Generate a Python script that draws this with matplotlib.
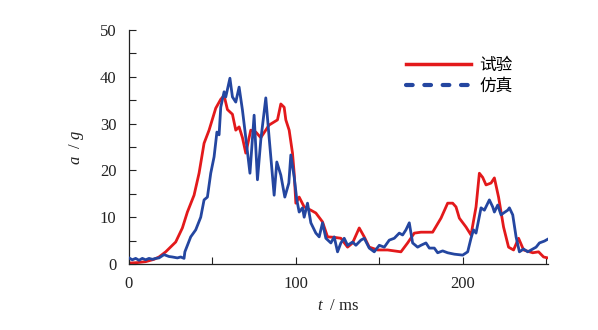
import matplotlib
matplotlib.use("Agg")
import matplotlib.pyplot as plt
from matplotlib.lines import Line2D
from matplotlib.ticker import MultipleLocator

# 字体设置：数字用 Times 风格衬线体，中文用思源黑体
plt.rcParams['font.family'] = ['Liberation Serif', 'Noto Sans CJK SC']
plt.rcParams['mathtext.fontset'] = 'custom'
plt.rcParams['mathtext.it'] = 'Liberation Serif:italic'
plt.rcParams['mathtext.rm'] = 'Liberation Serif'

# 试验曲线 (t / ms, a / g)
t_exp = [0, 5, 10, 15, 18, 22, 28, 32, 35, 39, 42, 45, 48, 52, 55, 57, 59, 62,
         64, 66, 68, 70, 73, 76, 79, 84, 89, 91, 93, 94, 96, 98, 99, 100, 102,
         105, 109, 112, 116, 119, 123, 127, 131, 134, 138, 141, 144, 149, 155,
         163, 167, 171, 175, 182, 187, 191, 194, 196, 198, 202, 205, 208, 210,
         212, 214, 217, 219, 221.5, 224.5, 227.5, 230.5, 233.5, 236.5, 242,
         245.5, 248.5, 251]
a_exp = [0.2, 0.3, 0.5, 1.0, 1.5, 2.6, 4.7, 7.7, 11.1, 14.7, 19.4, 25.8, 28.6,
         33.3, 35.2, 36.0, 33.0, 32.0, 28.6, 29.3, 27.0, 23.7, 28.6, 28.2, 27.0,
         29.7, 30.8, 34.2, 33.5, 30.8, 28.6, 23.7, 19.4, 13.0, 14.3, 12.2,
         11.5, 10.9, 9.0, 5.8, 5.7, 5.5, 3.6, 4.5, 7.7, 5.8, 3.6, 3.0, 3.0,
         2.6, 4.5, 6.6, 6.8, 6.8, 9.8, 13.0, 13.0, 12.2, 9.8, 7.9, 6.2, 12.2,
         19.4, 18.5, 16.9, 17.3, 18.4, 14.3, 7.9, 3.6, 3.0, 5.5, 3.0, 2.4,
         2.6, 1.5, 1.3]

# 仿真曲线
t_sim = [0, 2, 4, 6, 8, 10, 12, 14, 16, 18, 21, 24, 26, 29, 31, 33, 33.5, 37,
         40, 43, 45, 47, 49, 51, 52.7, 54, 55, 57, 58, 60.5, 62, 64, 66, 68,
         70, 72.5, 75, 77, 79, 82, 84, 87, 88.6, 91, 93.4, 95.8, 97, 99,
         100.6, 102, 104, 105, 107, 109, 112, 114, 116, 118, 121, 123, 125,
         127, 129, 131, 134, 136, 139, 141, 144, 147, 150, 153, 156, 159, 162,
         164, 166, 168, 170, 173, 175, 178, 180, 183, 185, 188, 191, 195, 200,
         203, 205, 206.5, 208, 211, 213, 214.5, 216, 218, 219, 221, 223,
         224.5, 227, 228, 230, 232, 234, 236.5, 239, 242, 244, 246, 249, 251]
a_sim = [1.3, 0.9, 1.2, 0.8, 1.2, 0.9, 1.2, 1.0, 1.2, 1.3, 2.0, 1.6, 1.5, 1.3,
         1.5, 1.2, 2.6, 5.8, 7.3, 10.0, 13.7, 14.3, 19.4, 22.9, 28.2, 27.6,
         33.5, 36.8, 35.7, 39.7, 35.7, 34.6, 37.8, 32.9, 27.0, 19.4, 31.8,
         18.0, 26.5, 35.5, 27.0, 14.7, 21.8, 19.0, 14.3, 17.3, 23.3, 18.6,
         13.7, 11.1, 12.0, 10.0, 13.0, 8.8, 6.6, 5.8, 8.8, 5.5, 4.5, 5.8, 2.6,
         4.5, 5.5, 4.0, 4.7, 4.0, 5.1, 5.5, 3.4, 2.6, 4.0, 3.6, 5.1, 5.5, 6.6,
         6.2, 7.3, 8.8, 4.5, 3.6, 4.0, 4.5, 3.4, 3.4, 2.4, 2.8, 2.4, 2.1, 1.9,
         2.6, 5.5, 7.3, 6.6, 12.0, 11.5, 12.6, 13.7, 12.2, 11.1, 12.6, 10.5,
         10.9, 11.5, 12.0, 10.5, 5.8, 2.6, 3.2, 2.6, 3.2, 3.6, 4.5, 4.9, 5.3]

labels = ['试验', '仿真']
red = '#e3191b'
blue = '#2446a0'

fig = plt.figure(figsize=(5.98, 3.30), dpi=100)
ax = fig.add_axes([0.2157, 0.2, 0.7003, 0.709])

ax.plot(t_exp, a_exp, color=red, lw=2.0, zorder=2)
ax.plot(t_sim, a_sim, color=blue, lw=2.0, zorder=3)

ax.set_xlim(0, 251)
ax.set_ylim(0, 50)
ax.xaxis.set_major_locator(MultipleLocator(100))
ax.xaxis.set_minor_locator(MultipleLocator(50))
ax.yaxis.set_major_locator(MultipleLocator(10))
ax.yaxis.set_minor_locator(MultipleLocator(5))
ax.tick_params(which='both', direction='in', length=5, width=0.8,
               labelsize=12, colors='#222222')
ax.tick_params(axis='x', pad=9)
ax.tick_params(axis='y', pad=9)
ax.spines['top'].set_visible(False)
ax.spines['right'].set_visible(False)
for s in ('left', 'bottom'):
    ax.spines[s].set_linewidth(0.9)
    ax.spines[s].set_color('#222222')

ax.set_xlabel(r'$t$  / ms', fontsize=12, labelpad=4, color='#222222')
ax.set_ylabel(r'$a$  / $g$', fontsize=12, labelpad=10, color='#222222')

# 图例：试验为实线，仿真为虚线
handles = [Line2D([], [], color=red, lw=2.5),
           Line2D([], [], color=blue, lw=3.0, linestyle=(0, (1.6, 2.8)),
                  dash_capstyle='round')]
ax.legend(handles, labels, loc='upper left', bbox_to_anchor=(0.625, 0.945),
          frameon=False, fontsize=12, handlelength=3.9, handletextpad=0.5,
          labelspacing=0.3)

fig.savefig('out.png', dpi=100)
